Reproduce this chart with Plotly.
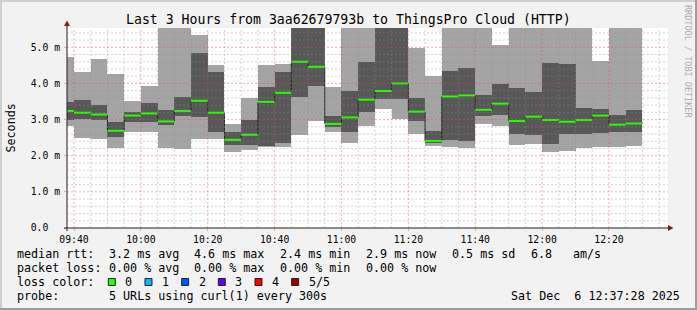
import plotly.graph_objects as go
import pandas as pd

# ---------------- data (milliseconds) ----------------
DAY = "2025-12-06 "
bin_end = ["09:40", "09:45", "09:50", "09:55", "10:00", "10:05", "10:10", "10:15", "10:20",
           "10:25", "10:30", "10:35", "10:40", "10:45", "10:50", "10:55", "11:00", "11:05",
           "11:10", "11:15", "11:20", "11:25", "11:30", "11:35", "11:40", "11:45", "11:50",
           "11:55", "12:00", "12:05", "12:10", "12:15", "12:20", "12:25", "12:30"]
# sorted pings per 5-minute step: lowest, 2nd, median, 4th, highest
ping_min = [2.83, 2.50, 2.47, 2.22, 2.67, 2.67, 2.21, 2.19, 2.47, 2.47, 2.11, 2.16, 2.24, 2.23,
            2.58, 2.95, 2.67, 2.35, 2.83, 3.29, 3.02, 2.61, 2.28, 2.23, 2.21, 2.87, 2.81, 2.31,
            2.33, 2.09, 2.14, 2.20, 2.24, 2.23, 2.28]
ping_lo = [2.99, 3.02, 2.99, 2.53, 2.94, 2.94, 2.84, 3.11, 3.08, 2.67, 2.30, 2.30, 2.27, 2.36,
           3.63, 3.94, 2.79, 2.67, 3.22, 3.57, 3.57, 2.96, 2.35, 2.44, 2.41, 3.11, 3.13, 2.61,
           2.56, 2.32, 2.61, 2.61, 2.64, 2.66, 2.67]
median = [3.24, 3.19, 3.14, 2.69, 3.11, 3.17, 2.95, 3.24, 3.52, 3.19, 2.44, 2.58, 3.49, 3.74,
          4.60, 4.46, 2.88, 3.06, 3.55, 3.79, 4.00, 3.22, 2.41, 3.64, 3.67, 3.27, 3.44, 2.96,
          3.08, 2.99, 2.94, 2.99, 3.11, 2.86, 2.89]
ping_hi = [3.49, 3.55, 3.41, 2.93, 3.20, 3.46, 3.27, 3.63, 4.84, 4.33, 2.67, 2.99, 3.90, 4.33,
           5.90, 5.90, 3.10, 3.79, 4.60, 5.90, 5.90, 3.61, 2.69, 4.35, 4.44, 3.67, 3.99, 3.88,
           3.77, 4.57, 4.54, 3.32, 3.30, 3.13, 3.26]
ping_max = [4.73, 4.32, 4.68, 4.26, 3.52, 3.92, 5.90, 5.90, 5.34, 4.51, 2.88, 3.61, 4.51, 4.54,
            5.90, 5.90, 3.90, 5.90, 5.90, 5.90, 5.90, 4.99, 4.20, 5.90, 5.90, 5.90, 5.06, 5.90,
            5.90, 5.90, 5.90, 5.90, 4.62, 5.90, 5.90]

y_ticks = [0, 1, 2, 3, 4, 5]
y_ticktext = ["0.0\u00a0\u00a0", "1.0\u00a0m", "2.0\u00a0m", "3.0\u00a0m", "4.0\u00a0m", "5.0\u00a0m"]

title = "Last 3 Hours from 3aa62679793b to ThingsPro Cloud (HTTP)"
median_stats = ["3.2 ms avg", "4.6 ms max", "2.4 ms min", "2.9 ms now", "0.5 ms sd"]
median_rate = ["6.8", "am/s"]
loss_stats = ["0.00 % avg", "0.00 % max", "0.00 % min", "0.00 % now"]
loss_labels = ["0", "1", "2", "3", "4", "5/5"]
loss_colors = ["#26ff00", "#00b8ff", "#0059ff", "#5e00ff", "#ff0000", "#a00000"]
probe_text = "5 URLs using curl(1) every 300s"
stamp = "Sat Dec  6 12:37:28 2025"

# ---------------- geometry ----------------
W, H = 697, 310
L, R, T, B = 67, 29, 28, 82
PW, PH = W - L - R, H - T - B
def px(x):
    return (x - L) / PW
def py(y):
    return (H - B - y) / PH

LIGHT, DARK = "#a4a4a4", "#585858"
MONO = "DejaVu Sans Mono"

ends = pd.to_datetime([DAY + t for t in bin_end])
starts = ends - pd.Timedelta(minutes=5)
mids = starts + pd.Timedelta(seconds=150)

fig = go.Figure()
fig.add_bar(x=mids, base=ping_min, y=[a - b for a, b in zip(ping_max, ping_min)],
            width=300000, marker=dict(color=LIGHT, line=dict(width=0)), hoverinfo="skip")
fig.add_bar(x=mids, base=ping_lo, y=[a - b for a, b in zip(ping_hi, ping_lo)],
            width=300000, marker=dict(color=DARK, line=dict(width=0)), hoverinfo="skip")
fig.add_scatter(x=list(starts) + [ends[-1]], y=median + [median[-1]], mode="lines",
                line=dict(shape="hv", color="#202020", width=1), hoverinfo="skip")
gx, gy = [], []
for s, e, m in zip(starts, ends, median):
    gx += [s, e, None]
    gy += [m, m, None]
fig.add_scatter(x=gx, y=gy, mode="lines", line=dict(color=loss_colors[0], width=2), hoverinfo="skip")

x_start = pd.Timestamp(DAY + "09:37:54")
x_end = pd.Timestamp(DAY + "12:37:40")
y_top = 200 / 36.14

shapes = []
# grid (drawn above the smoke like rrdtool)
GRID = "rgba(143,143,143,0.38)"
MGRID = "rgba(222,79,79,0.45)"
t = pd.Timestamp(DAY + "09:40")
while t < x_end:
    major = (t.minute % 20 == 0)
    shapes.append(dict(type="line", xref="x", yref="paper", x0=t, x1=t, y0=0, y1=1, layer="above",
                       line=dict(color=MGRID if major else GRID, width=1, dash="2px,2px")))
    t += pd.Timedelta(minutes=5)
for k in range(1, 28):
    v = k * 0.2
    major = (k % 5 == 0)
    shapes.append(dict(type="line", xref="paper", yref="y", x0=0, x1=1, y0=v, y1=v, layer="above",
                       line=dict(color=MGRID if major else GRID, width=1, dash="2px,2px")))
# axes + arrows
AX = "#1f1f1f"
ARROW = "#801f1f"
shapes.append(dict(type="line", xref="paper", yref="paper", x0=px(64), x1=px(669), y0=py(228), y1=py(228),
                   line=dict(color=AX, width=1), layer="above"))
shapes.append(dict(type="line", xref="paper", yref="paper", x0=px(67), x1=px(67), y0=py(231), y1=py(25),
                   line=dict(color=AX, width=1), layer="above"))
shapes.append(dict(type="path", xref="paper", yref="paper", layer="above",
                   path=f"M {px(668)} {py(225)} L {px(673.5)} {py(228)} L {px(668)} {py(231)} Z",
                   fillcolor=ARROW, line=dict(width=0)))
shapes.append(dict(type="path", xref="paper", yref="paper", layer="above",
                   path=f"M {px(64)} {py(26)} L {px(67)} {py(20.5)} L {px(70)} {py(26)} Z",
                   fillcolor=ARROW, line=dict(width=0)))
# 3d frame
shapes.append(dict(type="rect", xref="paper", yref="paper", x0=px(0), x1=px(W), y0=py(0), y1=py(2),
                   fillcolor="#cfcfcf", line=dict(width=0)))
shapes.append(dict(type="rect", xref="paper", yref="paper", x0=px(0), x1=px(2), y0=py(0), y1=py(H),
                   fillcolor="#cfcfcf", line=dict(width=0)))
shapes.append(dict(type="rect", xref="paper", yref="paper", x0=px(0), x1=px(W), y0=py(H - 2), y1=py(H),
                   fillcolor="#9e9e9e", line=dict(width=0)))
shapes.append(dict(type="rect", xref="paper", yref="paper", x0=px(W - 2), x1=px(W), y0=py(0), y1=py(H),
                   fillcolor="#9e9e9e", line=dict(width=0)))

ann = []
def text(x, y, s, size=11.7, xanchor="left", color="black", angle=0, yanchor="middle"):
    ann.append(dict(x=px(x), y=py(y), xref="paper", yref="paper", text=s.replace(" ", "\u00a0"),
                    showarrow=False, xanchor=xanchor, yanchor=yanchor, textangle=angle,
                    borderpad=0, font=dict(family=MONO, size=size, color=color)))

text(348, 19, title, size=13.2, xanchor="center")
text(10.5, 128, "Seconds", angle=-90, xanchor="center")
text(688, 61, "RRDTOOL / TOBI OETIKER", size=8.5, angle=90, xanchor="center", color="#ababab")

rows = [254, 268, 282, 296.3]
cols = [107.5, 193.3, 279, 365.3, 451]
text(16, rows[0], "median rtt:")
for c, s in zip(cols, median_stats):
    text(c, rows[0], s)
text(530, rows[0], median_rate[0])
text(572.4, rows[0], median_rate[1])
text(16, rows[1], "packet loss:")
for c, s in zip(cols, loss_stats):
    text(c, rows[1], s)
text(16, rows[2], "loss color:")
for i, (lab, col) in enumerate(zip(loss_labels, loss_colors)):
    bx = 108.3 + i * 36.67
    shapes.append(dict(type="rect", xref="paper", yref="paper", x0=px(bx), x1=px(bx + 7),
                       y0=py(rows[2] - 3.5), y1=py(rows[2] + 3.5), fillcolor=col,
                       line=dict(color="#222222", width=1)))
    text(bx + 16, rows[2], lab)
text(16, rows[3], "probe:")
text(107.5, rows[3], probe_text)
text(681, rows[3], stamp, xanchor="right")

fig.update_layout(
    width=W, height=H, margin=dict(l=L, r=R, t=T, b=B, pad=0),
    paper_bgcolor="#f2f2f2", plot_bgcolor="#ffffff",
    barmode="overlay", bargap=0, showlegend=False, hovermode=False,
    shapes=shapes, annotations=ann,
    xaxis=dict(type="date", range=[x_start, x_end], showgrid=False, zeroline=False, showline=False,
               tick0=DAY + "09:40:00", dtick=1200000, tickformat="%H:%M",
               ticks="outside", ticklen=2, tickcolor=MGRID,
               tickfont=dict(family=MONO, size=9.75, color="black"), fixedrange=True),
    yaxis=dict(range=[0, y_top], showgrid=False, zeroline=False, showline=False,
               tickmode="array", tickvals=y_ticks, ticktext=y_ticktext,
               ticks="outside", ticklen=2, tickcolor=MGRID, ticklabelstandoff=2,
               tickfont=dict(family=MONO, size=9.75, color="black"), fixedrange=True),
)

fig.write_html("out.html")
